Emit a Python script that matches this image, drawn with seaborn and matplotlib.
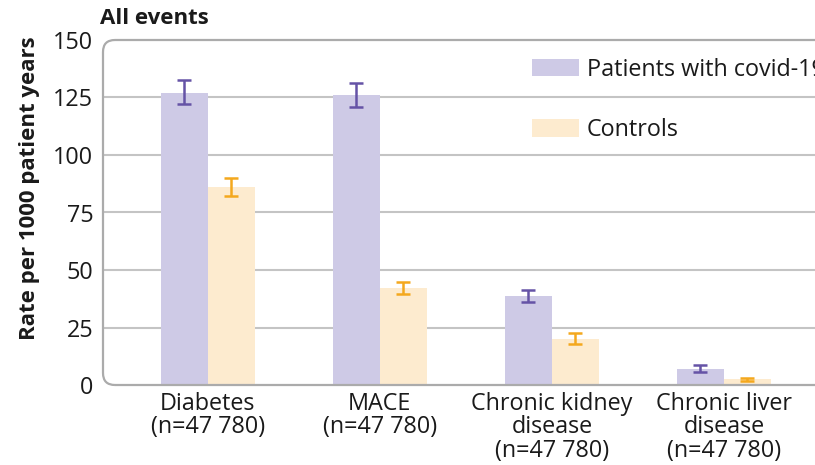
import numpy as np
import pandas as pd
import matplotlib
matplotlib.use("Agg")
import matplotlib.pyplot as plt
import seaborn as sns
from matplotlib.patches import FancyBboxPatch, Patch
from matplotlib.transforms import IdentityTransform

# ---- data ----
categories = ["Diabetes\n(n=47 780)", "MACE\n(n=47 780)",
              "Chronic kidney\ndisease\n(n=47 780)", "Chronic liver\ndisease\n(n=47 780)"]
groups = ["Patients with covid-19", "Controls"]
covid_rate = [127, 126, 38.5, 7]
covid_lo = [122, 121, 36, 5.5]
covid_hi = [132.5, 131.5, 41.5, 8.5]
control_rate = [86, 42, 20, 2.5]
control_lo = [82, 39.5, 18, 1.8]
control_hi = [90, 45, 22.5, 3.2]
yticks = [0, 25, 50, 75, 100, 125, 150]

df = pd.DataFrame({
    "category": categories * 2,
    "group": [groups[0]] * 4 + [groups[1]] * 4,
    "rate": covid_rate + control_rate,
})

W, H = 815, 465
DPI = 100
FS = 16.8
sns.set_theme(style="white")
FONT = ["Open Sans", "DejaVu Sans"]
plt.rcParams["font.family"] = FONT

bar_colors = ["#CECAE6", "#FDEBCF"]
err_colors = ["#6553A6", "#F4A81D"]
frame_col = "#ABABAB"
grid_col = "#C4C4C4"
txt_col = "#1a1a1a"

fig = plt.figure(figsize=(W / DPI, H / DPI), dpi=DPI)
left_px, right_px, top_px, bot_px = 103, 835, 40, 385
ax = fig.add_axes([left_px / W, 1 - bot_px / H, (right_px - left_px) / W, (bot_px - top_px) / H])

sns.barplot(data=df, x="category", y="rate", hue="group", order=categories,
            hue_order=groups, palette=bar_colors, errorbar=None, width=0.547,
            gap=0, saturation=1, ax=ax, legend=False, zorder=2)
for p in ax.patches:
    p.set_linewidth(0)

# error bars from bar centers
nb = len(categories)
bars = ax.patches[:2 * nb]
lows = [covid_lo, control_lo]
highs = [covid_hi, control_hi]
rates = [covid_rate, control_rate]
for g in range(2):
    xs = [bars[g * nb + i].get_x() + bars[g * nb + i].get_width() / 2 for i in range(nb)]
    r = np.array(rates[g])
    yerr = [r - np.array(lows[g]), np.array(highs[g]) - r]
    ax.errorbar(xs, r, yerr=yerr, fmt="none", ecolor=err_colors[g], elinewidth=1.8,
                capsize=5, capthick=1.8, zorder=3)

ax.set_ylim(0, 150)
xmin = -0.61
ax.set_xlim(xmin, xmin + (right_px - left_px) / 172.0)
ax.set_yticks(yticks)
ax.set_yticklabels([str(t) for t in yticks])
for t in yticks[1:-1]:
    ax.axhline(t, color=grid_col, lw=1.5, zorder=1)
for s in ax.spines.values():
    s.set_visible(False)
ax.tick_params(axis="both", length=0, labelsize=FS, colors=txt_col)
ax.tick_params(axis="y", pad=7)
ax.tick_params(axis="x", pad=5)
ax.set_xlabel("")
ax.set_ylabel("")
for lab in ax.get_xticklabels():
    lab.set_linespacing(0.96)

fig.text(30 / W, 1 - 188 / H, "Rate per 1000 patient years", fontsize=16, fontweight="bold",
         rotation=90, ha="center", va="center", color=txt_col)

# rounded frame in pixel coordinates
frame = FancyBboxPatch((left_px, H - bot_px), right_px - left_px + 40, bot_px - top_px,
                       boxstyle="round,pad=0,rounding_size=12", transform=IdentityTransform(),
                       fill=False, edgecolor=frame_col, lw=1.6, zorder=0, clip_on=False)
fig.patches.append(frame)
frame.set_figure(fig)

fig.text(100 / W, 1 - 18 / H, "All events", fontsize=16, fontweight="bold",
         ha="left", va="center", color=txt_col)

handles = [Patch(facecolor=bar_colors[0], edgecolor="none"),
           Patch(facecolor=bar_colors[1], edgecolor="none")]
leg = ax.legend(handles, groups, loc="upper left", bbox_to_anchor=(532 / W, 1 - 58 / H),
                bbox_transform=fig.transFigure, frameon=False, fontsize=FS,
                handlelength=2.02, handleheight=0.75, handletextpad=0.32,
                labelspacing=1.55, borderpad=0, borderaxespad=0)
for t in leg.get_texts():
    t.set_color(txt_col)

fig.savefig("out.png", dpi=DPI)
